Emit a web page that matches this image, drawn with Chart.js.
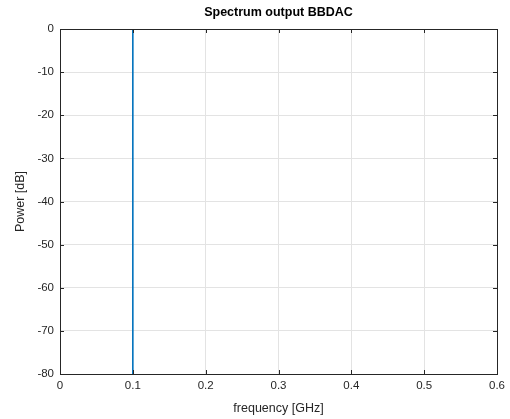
<!DOCTYPE html>
<html>
<head>
<meta charset="utf-8">
<script src="https://cdn.jsdelivr.net/npm/chart.js@4/dist/chart.umd.min.js"></script>
<style>
  html, body { margin: 0; padding: 0; background: #fff; }
  #wrap { width: 510px; height: 419px; }
</style>
</head>
<body>
<div id="wrap"><canvas id="spec" width="510" height="419"></canvas></div>
<script>
// Spectrum data (single tone at 0.1 GHz, floor below the plotted range)
const frequency = [0.1, 0.1];
const power = [0, -80];

// Axis limits / ticks
const xTicks = [0, 0.1, 0.2, 0.3, 0.4, 0.5, 0.6];
const yTicks = [0, -10, -20, -30, -40, -50, -60, -70, -80];

const axisColor = "#262626";
const gridColor = "#e3e3e3";

// MATLAB-like box with inward tick marks
const boxPlugin = {
  id: "box",
  afterDraw(chart) {
    const { ctx, chartArea: a, scales } = chart;
    ctx.save();
    ctx.strokeStyle = axisColor;
    ctx.lineWidth = 1;
    ctx.beginPath();
    xTicks.forEach(v => {
      const x = Math.round(scales.x.getPixelForValue(v)) + 0.5;
      ctx.moveTo(x, a.bottom); ctx.lineTo(x, a.bottom - 4);
      ctx.moveTo(x, a.top); ctx.lineTo(x, a.top + 4);
    });
    yTicks.forEach(v => {
      const y = Math.round(scales.y.getPixelForValue(v)) + 0.5;
      ctx.moveTo(a.left, y); ctx.lineTo(a.left + 4, y);
      ctx.moveTo(a.right, y); ctx.lineTo(a.right - 4, y);
    });
    ctx.stroke();
    ctx.strokeRect(Math.round(a.left) + 0.5, Math.round(a.top) + 0.5,
      Math.round(a.right - a.left), Math.round(a.bottom - a.top));
    ctx.restore();
  }
};

Chart.defaults.font.family = "'Liberation Sans', Arial, sans-serif";
Chart.defaults.font.size = 11.5;
Chart.defaults.color = axisColor;

new Chart(document.getElementById("spec"), {
  type: "scatter",
  data: {
    datasets: [{
      data: frequency.map((f, i) => ({ x: f, y: power[i] })),
      showLine: true,
      borderColor: "#0072BD",
      borderWidth: 1.6,
      pointRadius: 0,
      fill: false
    }]
  },
  options: {
    responsive: false,
    animation: false,
    layout: { padding: { left: 0, right: 13, top: 0, bottom: 0 } },
    plugins: {
      legend: { display: false },
      tooltip: { enabled: false },
      title: {
        display: true,
        text: "Spectrum output BBDAC",
        fullSize: false,
        color: "#000",
        font: { size: 12.5, weight: "bold" },
        padding: { top: 5, bottom: 9 }
      }
    },
    scales: {
      x: {
        type: "linear",
        min: 0,
        max: 0.6,
        afterFit(s) { s.height = 45; },
        afterBuildTicks(s) { s.ticks = xTicks.map(v => ({ value: v })); },
        ticks: {
          padding: 5,
          callback: v => String(Math.round(v * 10) / 10)
        },
        grid: { color: gridColor, drawTicks: false },
        border: { display: false },
        title: {
          display: true,
          text: "frequency [GHz]",
          font: { size: 12.5 },
          padding: { top: 3, bottom: 3 }
        }
      },
      y: {
        type: "linear",
        min: -80,
        max: 0,
        afterFit(s) { s.width = 60; },
        afterBuildTicks(s) { s.ticks = yTicks.map(v => ({ value: v })); },
        ticks: { padding: 6 },
        grid: { color: gridColor, drawTicks: false },
        border: { display: false },
        title: {
          display: true,
          text: "Power [dB]",
          font: { size: 12.5 },
          padding: { top: 13, bottom: 13 }
        }
      }
    }
  },
  plugins: [boxPlugin]
});
</script>
</body>
</html>
